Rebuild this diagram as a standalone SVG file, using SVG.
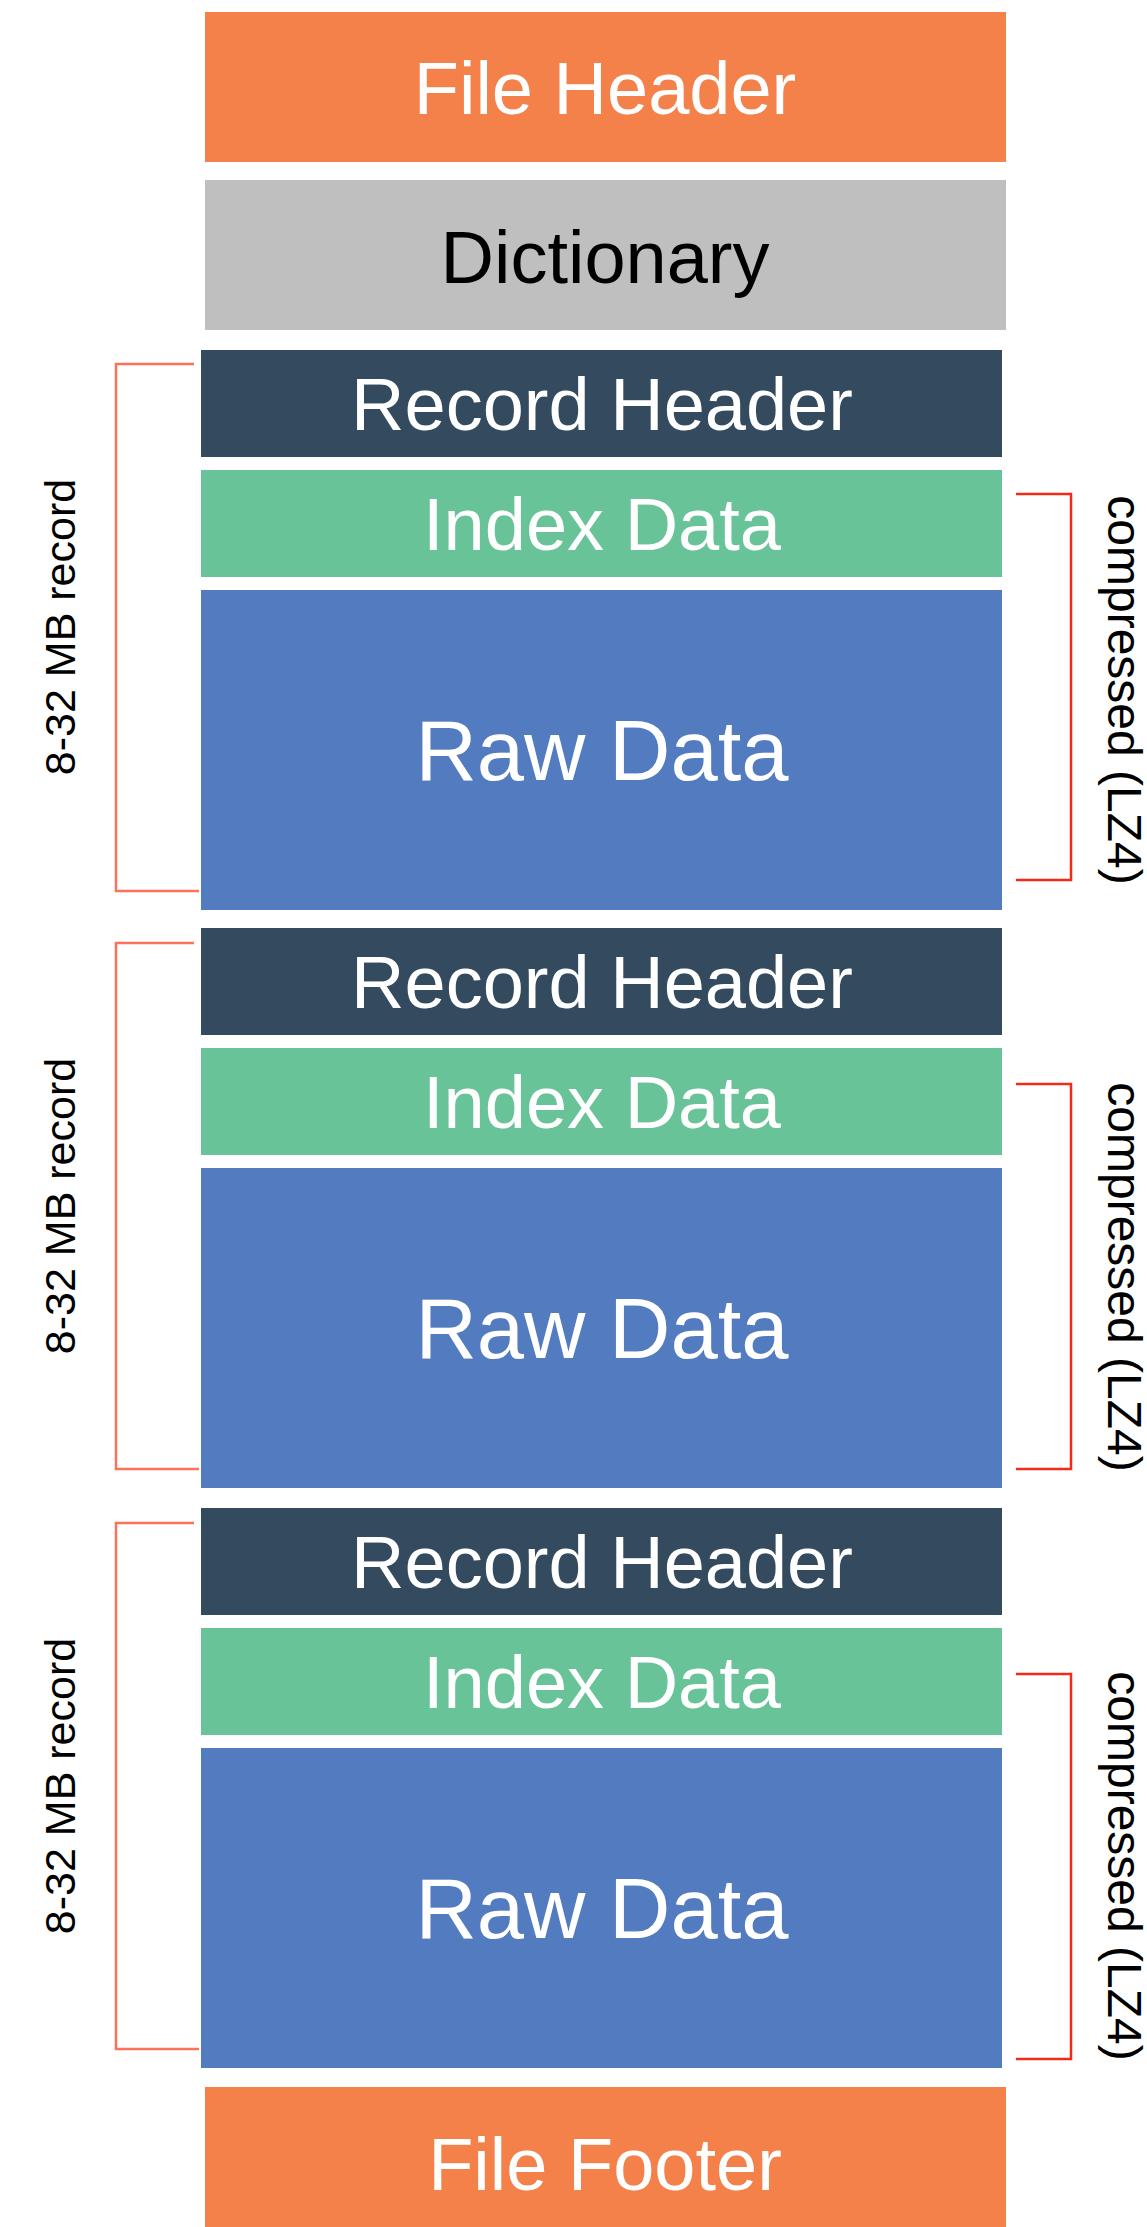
<svg xmlns="http://www.w3.org/2000/svg" width="1147" height="2227" viewBox="0 0 1147 2227">
<style>
.t{font-family:"Liberation Sans",Arial,sans-serif;font-size:74px;text-anchor:middle;fill:#fff}
.raw{font-size:85px}
.dk{fill:#000}
.lbl{font-family:"Liberation Sans",Arial,sans-serif;font-size:43px;fill:#000;text-anchor:middle}
.lbr{font-family:"Liberation Sans",Arial,sans-serif;font-size:48px;fill:#000;text-anchor:middle}
.orange{fill:#F4804A}
.gray{fill:#BFBFBF}
.rh{fill:#344A5F}
.id{fill:#68C399}
.rd{fill:#537CC0}
.bl{fill:none;stroke:#FF7058;stroke-width:2.5}
.br{fill:none;stroke:#F22A17;stroke-width:2.5}
</style>
<rect width="1147" height="2227" fill="#fff"/>
<g id="file-header"><rect class="orange" x="205" y="12" width="801" height="150"/><text class="t" x="605" y="114">File Header</text></g>
<g id="dictionary"><rect class="gray" x="205" y="180" width="801" height="150"/><text class="t dk" x="605" y="283">Dictionary</text></g>

<g id="record-header-1"><rect class="rh" x="201" y="350" width="801" height="107"/><text class="t" x="602" y="430">Record Header</text></g>
<g id="index-data-1"><rect class="id" x="201" y="470" width="801" height="107"/><text class="t" x="602" y="550">Index Data</text></g>
<g id="raw-data-1"><rect class="rd" x="201" y="590" width="801" height="320"/><text class="t raw" x="602" y="780">Raw Data</text></g>

<g id="record-header-2"><rect class="rh" x="201" y="928" width="801" height="107"/><text class="t" x="602" y="1008">Record Header</text></g>
<g id="index-data-2"><rect class="id" x="201" y="1048" width="801" height="107"/><text class="t" x="602" y="1128">Index Data</text></g>
<g id="raw-data-2"><rect class="rd" x="201" y="1168" width="801" height="320"/><text class="t raw" x="602" y="1358">Raw Data</text></g>

<g id="record-header-3"><rect class="rh" x="201" y="1508" width="801" height="107"/><text class="t" x="602" y="1588">Record Header</text></g>
<g id="index-data-3"><rect class="id" x="201" y="1628" width="801" height="107"/><text class="t" x="602" y="1708">Index Data</text></g>
<g id="raw-data-3"><rect class="rd" x="201" y="1748" width="801" height="320"/><text class="t raw" x="602" y="1938">Raw Data</text></g>

<g id="file-footer"><rect class="orange" x="205" y="2087" width="801" height="140"/><text class="t" x="605" y="2190">File Footer</text></g>

<g id="connectors">
<path class="bl" d="M194,364 H116 V891 H199"/>
<path class="bl" d="M194,943 H116 V1469 H199"/>
<path class="bl" d="M194,1523 H116 V2049 H199"/>
<path class="br" d="M1016,494 H1071 V880 H1016"/>
<path class="br" d="M1016,1084 H1071 V1469 H1016"/>
<path class="br" d="M1016,1674 H1071 V2059 H1016"/>
</g>
<g id="labels">
<text class="lbl" transform="translate(75,627) rotate(-90)">8-32 MB record</text>
<text class="lbl" transform="translate(75,1206) rotate(-90)">8-32 MB record</text>
<text class="lbl" transform="translate(75,1786) rotate(-90)">8-32 MB record</text>
<text class="lbr" transform="translate(1108,690) rotate(90)">compressed (LZ4)</text>
<text class="lbr" transform="translate(1108,1277) rotate(90)">compressed (LZ4)</text>
<text class="lbr" transform="translate(1108,1866) rotate(90)">compressed (LZ4)</text>
</g>
</svg>
